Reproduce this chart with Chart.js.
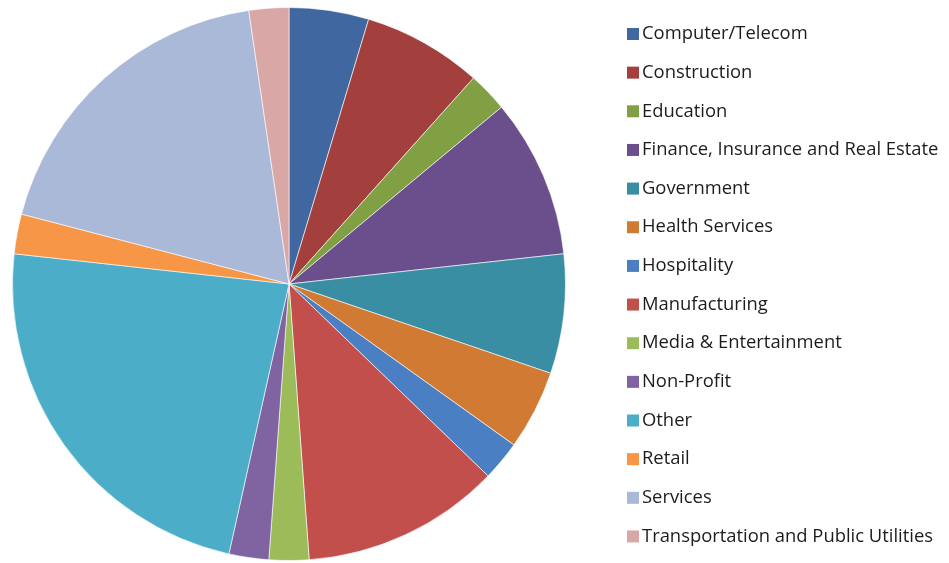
<!DOCTYPE html>
<html>
<head>
<meta charset="utf-8">
<script src="https://cdn.jsdelivr.net/npm/chart.js@4/dist/chart.umd.min.js"></script>
<style>
  html, body { margin: 0; padding: 0; background: #fff; }
  #wrap { width: 949px; height: 563px; }
</style>
</head>
<body>
<div id="wrap"><canvas id="industryChart"></canvas></div>
<script>
var industries = [
    'Computer/Telecom', 'Construction', 'Education',
    'Finance, Insurance and Real Estate', 'Government', 'Health Services',
    'Hospitality', 'Manufacturing', 'Media & Entertainment', 'Non-Profit',
    'Other', 'Retail', 'Services', 'Transportation and Public Utilities'
];
var counts = [2, 3, 1, 4, 3, 2, 1, 5, 1, 1, 10, 1, 8, 1];
var sliceColors = [
    '#4067a0', '#a33f3c', '#80a043', '#6a4f8c', '#3a8ea4', '#d07a33', '#4a7fc3',
    '#c24f4c', '#9bbc59', '#8064a2', '#4badc7', '#f79646', '#aab9d7', '#d9a7a6'
];

// legend drawn by hand so spacing follows the rows on the right
var sideLegend = {
    id: 'sideLegend',
    afterDraw: function(chart) {
        var ctx = chart.ctx;
        var labels = chart.data.labels;
        var colors = chart.data.datasets[0].backgroundColor;
        ctx.save();
        ctx.font = '18.4px "Open Sans", sans-serif';
        ctx.textBaseline = 'middle';
        ctx.textAlign = 'left';
        for (var i = 0; i < labels.length; i++) {
            var y = 34 + i * 38.65;
            ctx.fillStyle = colors[i];
            ctx.fillRect(627, y - 6, 12, 12);
            ctx.fillStyle = '#1c1c1c';
            ctx.fillText(labels[i], 642, y);
        }
        ctx.restore();
    }
};

document.addEventListener('DOMContentLoaded', function() {
    var ctx = document.getElementById('industryChart').getContext('2d');

    var industryChart = new Chart(ctx, {
        type: 'pie',
        data: {
            labels: industries,
            datasets: [{
                data: counts,
                backgroundColor: sliceColors,
                borderColor: 'rgba(255, 255, 255, 0.6)',
                borderWidth: 1
            }]
        },
        options: {
            responsive: true,
            maintainAspectRatio: false,
            animation: false,
            layout: {
                padding: { left: 12, right: 383, top: 7, bottom: 2 }
            },
            plugins: {
                legend: { display: false },
                tooltip: { enabled: false }
            }
        },
        plugins: [sideLegend]
    });
});
</script>
</body>
</html>
